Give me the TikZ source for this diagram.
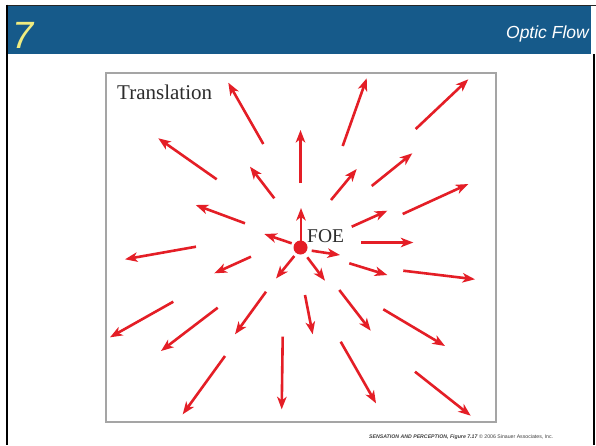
\documentclass[tikz,border=0pt]{standalone}
\usepackage{fontspec}
\setmainfont{Liberation Serif}
\newfontfamily\arialfont{Liberation Sans}
\usetikzlibrary{arrows.meta}
\definecolor{barblue}{RGB}{22,90,138}
\definecolor{slidenum}{RGB}{240,236,128}
\definecolor{flowred}{RGB}{228,30,38}
\definecolor{framegray}{RGB}{165,165,165}
\definecolor{labelgray}{RGB}{45,45,45}
\tikzset{
  flow/.style={draw=flowred, line width=2.6pt,
    -{Stealth[length=12.5pt,width=9.5pt,inset=3.5pt]}},
  serlabel/.style={text=labelgray, inner sep=0pt},
}
\begin{document}
\begin{tikzpicture}[x=1pt,y=-1pt]
  % page
  \fill[white] (0,0) rectangle (596,445);
  \useasboundingbox (0,0) rectangle (596,445);

  % title bar
  \fill[barblue] (7,5) rectangle (591,54);
  \draw[black!85, line width=1pt] (6,5) -- (596,5);
  \draw[black, line width=2.5pt] (7.2,4.5) -- (7.2,445);
  \draw[black, line width=2pt] (594,54) -- (594,445);
  \node[anchor=base west, inner sep=0pt, text=slidenum,
        font=\arialfont\itshape\fontsize{38}{40}\selectfont] (num) at (12,48) {7};
  \node[anchor=base east, inner sep=0pt, text=white,
        font=\arialfont\itshape\fontsize{17.5}{20}\selectfont] (title) at (589,38) {Optic Flow};

  % figure frame
  \draw[framegray, line width=1.3pt] (106,73) rectangle (496,422);
  \node[serlabel, anchor=base west, font=\fontsize{21}{24}\selectfont] (trans) at (117,99.5) {Translation};

  % flow field vectors (tail -- tip)
  \foreach \ax/\ay/\bx/\by in {
      263.3/144/228.3/82.7,
      216.7/179.3/158.3/138.3,
      274.3/198.3/250/166.7,
      245/223.3/195.7/205,
      291.7/243.3/264.3/234,
      300.5/183/300.5/130,
      342.7/146/366.7/78.3,
      415.7/129/468.3/79.3,
      331/200/356.7/169,
      371.7/186/412.3/153.3,
      402.7/214/468.3/184,
      351.7/226.7/387.3/210.7,
      361/242.5/413.3/242.5,
      301/241/301/208,
      196/246.7/125/259.3,
      251/256.7/214.3/273.3,
      294.3/256/276/278.5,
      173.3/301.7/110/337.3,
      217.7/307.7/161/351,
      266/291.7/235/334.3,
      225/356/182.7/414.3,
      282.7/336.7/281.7/409.3,
      311.7/250.7/340/255,
      307.3/257.3/325/280.7,
      349.3/263.3/387.3/275,
      403.3/270.7/475/279.3,
      305/295/312.7/334.3,
      339.3/290/370.7/330.7,
      383.3/309.3/445/346,
      340.7/341.7/376/403.3,
      415/371.7/470.7/415.7}
    \draw[flow] (\ax,\ay) -- (\bx,\by);

  % focus of expansion
  \fill[flowred] (300.5,247.5) circle[radius=7];
  \node[serlabel, anchor=base west, font=\fontsize{19.5}{22}\selectfont] (foe) at (307,242) {FOE};

  % credit line
  \node[anchor=base west, inner sep=0pt, text=black!75,
        font=\arialfont\fontsize{5.2}{6}\selectfont] (credit) at (369,438)
    {\textbf{\textit{SENSATION AND PERCEPTION,}} \textbf{\textit{Figure 7.17}} \textcopyright\ 2006 Sinauer Associates, Inc.};
\end{tikzpicture}
\end{document}
